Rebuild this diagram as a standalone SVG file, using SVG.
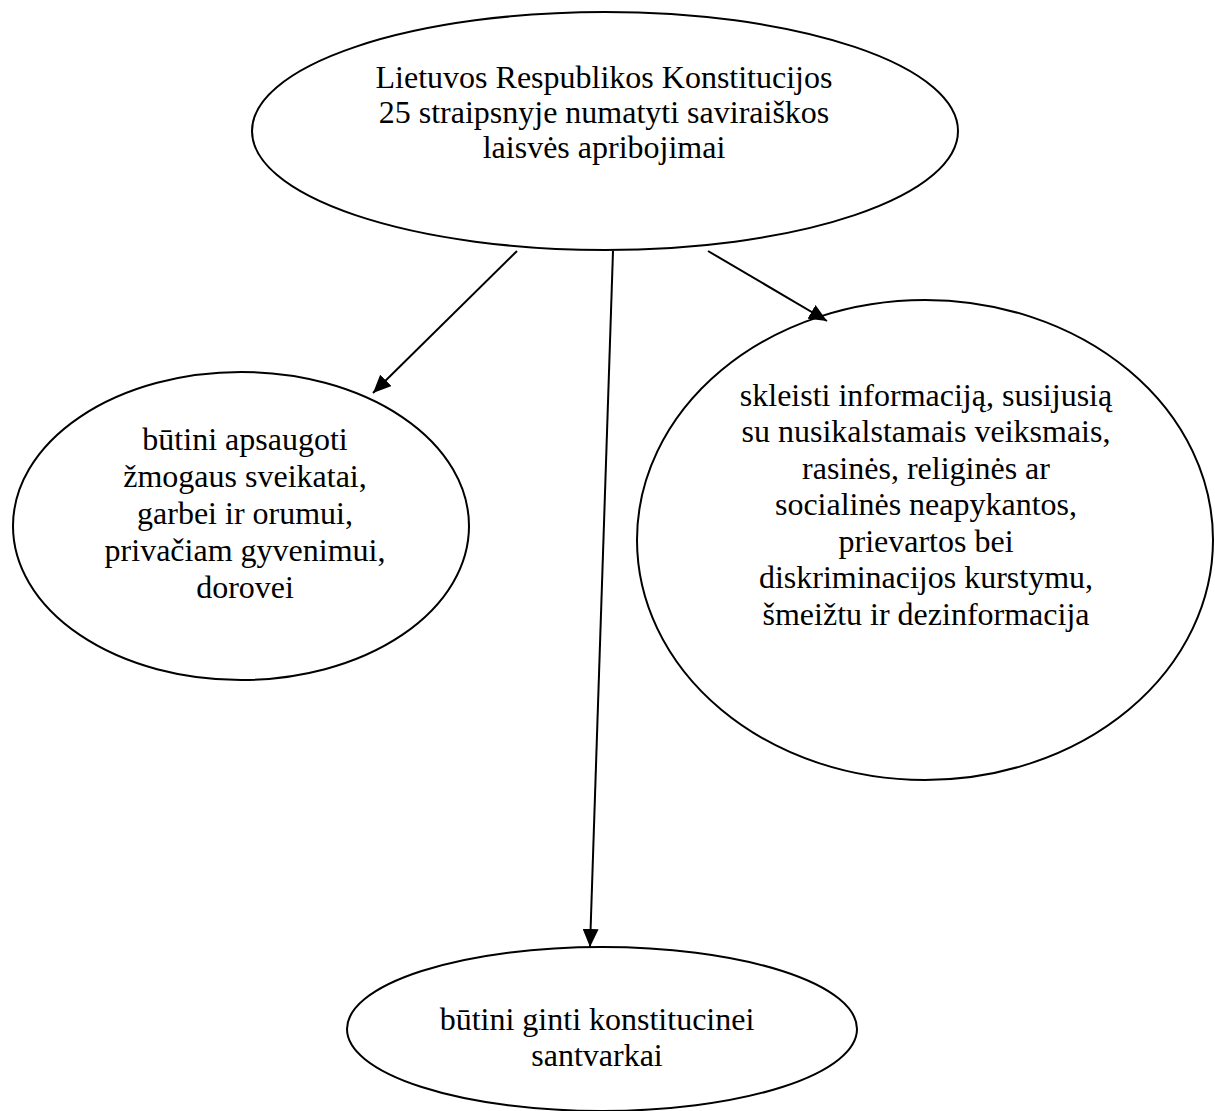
<svg xmlns="http://www.w3.org/2000/svg" width="1215" height="1111" viewBox="0 0 1215 1111">
<defs>
<style>
.node ellipse{fill:#fff;stroke:#000;stroke-width:2}
.node text{font-family:"Liberation Serif","Times New Roman",serif;font-size:32px;fill:#000;text-anchor:middle}
.edge{stroke:#000;stroke-width:2;fill:none;marker-end:url(#arr)}
</style>
<marker id="arr" markerUnits="userSpaceOnUse" markerWidth="20" markerHeight="16" refX="18" refY="8" orient="auto">
<path d="M0,0 L18,8 L0,16 Z" fill="#000"/>
</marker>
</defs>
<rect width="1215" height="1111" fill="#fff"/>
<g id="top">
<g class="node">
<ellipse cx="605" cy="131" rx="353" ry="119"/>
<text x="604" y="88">Lietuvos Respublikos Konstitucijos</text>
<text x="604" y="123">25 straipsnyje numatyti saviraiškos</text>
<text x="604" y="158">laisvės apribojimai</text>
</g>
</g>
<g id="left">
<g class="node">
<ellipse cx="241" cy="526" rx="228" ry="154"/>
<text x="245" y="450">būtini apsaugoti</text>
<text x="245" y="487">žmogaus sveikatai,</text>
<text x="245" y="524">garbei ir orumui,</text>
<text x="245" y="561">privačiam gyvenimui,</text>
<text x="245" y="598">dorovei</text>
</g>
</g>
<g id="right">
<g class="node">
<ellipse cx="925" cy="540" rx="288" ry="240"/>
<text x="926" y="406">skleisti informaciją, susijusią</text>
<text x="926" y="442">su nusikalstamais veiksmais,</text>
<text x="926" y="479">rasinės, religinės ar</text>
<text x="926" y="515">socialinės neapykantos,</text>
<text x="926" y="552">prievartos bei</text>
<text x="926" y="588">diskriminacijos kurstymu,</text>
<text x="926" y="625">šmeižtu ir dezinformacija</text>
</g>
</g>
<g id="bottom">
<g class="node">
<ellipse cx="602" cy="1029" rx="255" ry="82"/>
<text x="597" y="1030">būtini ginti konstitucinei</text>
<text x="597" y="1066">santvarkai</text>
</g>
</g>
<g id="connectors">
<path class="edge" d="M517,251 L373,393"/>
<path class="edge" d="M613,251 L590,947"/>
<path class="edge" d="M708,251 L827,321"/>
</g>
</svg>
